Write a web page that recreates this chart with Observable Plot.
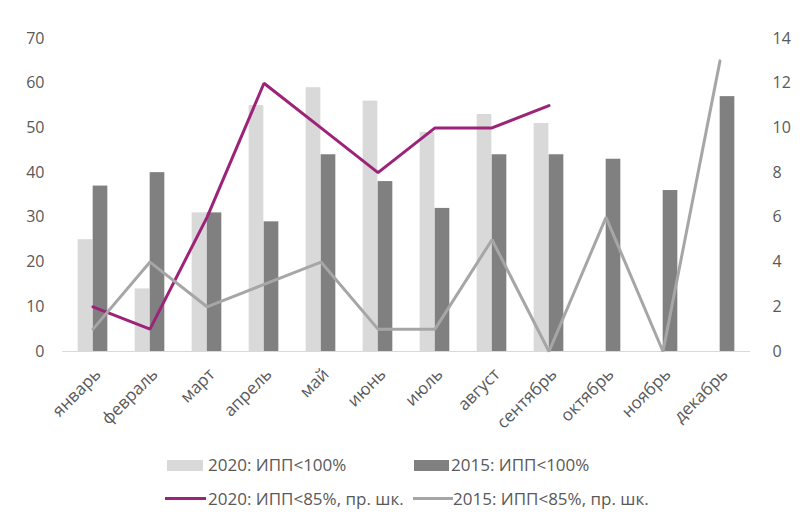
<!DOCTYPE html>
<html><head><meta charset="utf-8">
<script src="https://cdn.jsdelivr.net/npm/d3@7"></script>
<script src="https://cdn.jsdelivr.net/npm/@observablehq/plot@0.6"></script>
<style>
body{margin:0;background:#fff;font-family:"Open Sans",sans-serif;}
#wrap{position:relative;width:806px;height:530px;overflow:hidden;}
#chart{position:absolute;left:0;top:0;}
.leg{position:absolute;font-size:17px;color:#595959;white-space:nowrap;line-height:20px;}
.sw{position:absolute;}
</style></head><body><div id="wrap"><div id="chart"></div></div>
<script>
const months = ["январь","февраль","март","апрель","май","июнь","июль","август","сентябрь","октябрь","ноябрь","декабрь"];
const bars2020 = [25,14,31,55,59,56,49,53,51,null,null,null];
const bars2015 = [37,40,31,29,44,38,32,44,44,43,36,57];
const line2020 = [2,1,6,12,10,8,10,10,11,null,null,null];
const line2015 = [1,4,2,3,4,1,1,5,0,6,0,13];
const leftTicks = [0,10,20,30,40,50,60,70];
const rightTicks = [0,2,4,6,8,10,12,14];
const seriesNames = ["2020: ИПП<100%","2015: ИПП<100%","2020: ИПП<85%, пр. шк.","2015: ИПП<85%, пр. шк."];
const ratio = 70 / 14;

const W = 806, H = 440, ML = 62, MR = 56, MT = 38, MB = 89;
const bw = (W - ML - MR) / months.length;
const barW = 15;

const mk = (arr) => months.map((m, i) => ({m, v: arr[i]}));
const b20 = mk(bars2020).filter(d => d.v != null);
const b15 = mk(bars2015);
const l20 = mk(line2020);
const l15 = mk(line2015);

const fs = 16;
const plot = Plot.plot({
  width: W, height: H,
  marginLeft: ML, marginRight: MR, marginTop: MT, marginBottom: MB,
  style: {fontFamily: '"Open Sans", sans-serif', fontSize: fs + "px", color: "#595959", background: "#fff"},
  x: {type: "band", domain: months, padding: 0, label: null},
  y: {domain: [0, 70], label: null},
  marks: [
    Plot.barY(b20, {x: "m", y: "v", fill: "#d9d9d9", insetLeft: bw/2 - barW, insetRight: bw/2}),
    Plot.barY(b15, {x: "m", y: "v", fill: "#808080", insetLeft: bw/2, insetRight: bw/2 - barW}),
    Plot.ruleY([0], {stroke: "#d9d9d9", strokeWidth: 1}),
    Plot.line(l20, {x: "m", y: d => d.v == null ? NaN : d.v * ratio, stroke: "#9c2378", strokeWidth: 3, strokeLinejoin: "miter"}),
    Plot.line(l15, {x: "m", y: d => d.v * ratio, stroke: "#a6a6a6", strokeWidth: 3, strokeLinejoin: "miter"}),
    Plot.axisY(leftTicks, {anchor: "left", tickSize: 0, tickPadding: 18, label: null, fontSize: fs}),
    Plot.axisY(rightTicks.map(d => d * ratio), {anchor: "right", tickSize: 0, tickPadding: 22, label: null, tickFormat: d => d / ratio, fontSize: fs}),
    Plot.axisX({tickRotate: -45, tickSize: 0, tickPadding: 20, label: null, fontSize: fs + 1, dx: 5})
  ]
});
document.getElementById("chart").appendChild(plot);

const wrap = document.getElementById("wrap");
function addSwatch(x, y, w, h, color) {
  const d = document.createElement("div");
  d.className = "sw";
  Object.assign(d.style, {left: x + "px", top: y + "px", width: w + "px", height: h + "px", background: color});
  wrap.appendChild(d);
}
function addText(x, yc, t) {
  const d = document.createElement("div");
  d.className = "leg";
  d.textContent = t;
  Object.assign(d.style, {left: x + "px", top: (yc - 10) + "px"});
  wrap.appendChild(d);
}
addSwatch(167, 460, 36, 11, "#d9d9d9"); addText(208, 465, seriesNames[0]);
addSwatch(414, 460, 35, 11, "#808080"); addText(451, 465, seriesNames[1]);
addSwatch(165, 497, 41, 3, "#9c2378"); addText(208, 499, seriesNames[2]);
addSwatch(413, 497, 40, 3, "#a6a6a6"); addText(453, 499, seriesNames[3]);
</script></body></html>
